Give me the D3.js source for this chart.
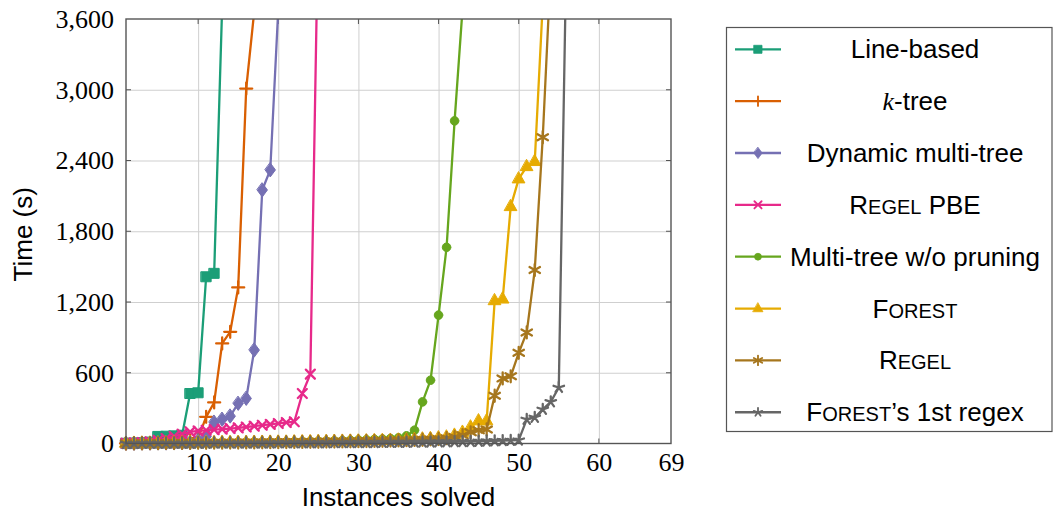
<!DOCTYPE html>
<html>
<head>
<meta charset="utf-8">
<script src="https://cdn.jsdelivr.net/npm/d3@7"></script>
<style>
  body { margin: 0; background: #fff; }
  svg { display: block; }
  .tick text { font-family: "Liberation Serif", "DejaVu Serif", serif; font-size: 26px; fill: #000; }
  .axis-label, .legend-text { font-family: "Liberation Sans", Arial, sans-serif; font-size: 26px; fill: #000; }
</style>
</head>
<body>
<div id="chart"></div>
<script>
// time (s) for the n-th solved instance, n = 1, 2, 3, ...
const lineBased = [2, 4, 7, 12, 60, 62, 65, 70, 424, 430, 1414, 1443, 3713];
const kTree = [1, 2, 3, 4, 5, 6, 8, 12, 22, 45, 226, 348, 849, 947, 1324, 3010, 3665];
const dynamicMultiTree = [1, 1, 2, 2, 3, 3, 4, 5, 7, 25, 60, 180, 205, 232, 340, 382, 792, 2150, 2320, 3682];
const regelPbe = [3, 5, 8, 15, 28, 42, 60, 79, 99, 107, 112, 118, 122, 127, 133, 140, 147, 155, 162, 170,
  178, 184, 424, 588, 4500];
const multiTreeNoPruning = [1, 1, 2, 2, 3, 3, 4, 4, 5, 5, 6, 6, 7, 7, 8, 8, 9, 10, 11, 12,
  13, 14, 16, 17, 19, 20, 22, 25, 28, 30, 32, 35, 38, 42, 48, 65, 113, 353, 537, 1089,
  1664, 2736, 3696];
const forest = [2, 2, 3, 3, 4, 4, 5, 5, 6, 6, 7, 7, 8, 8, 9, 9, 10, 10, 11, 12,
  12, 13, 14, 15, 16, 17, 18, 19, 20, 21, 22, 24, 25, 27, 29, 31, 34, 38, 42, 48,
  55, 70, 95, 140, 192, 192, 1211, 1225, 2009, 2244, 2348, 2391, 3734];
const regel = [1, 2, 2, 3, 3, 4, 4, 5, 5, 6, 6, 7, 7, 8, 8, 9, 9, 10, 11, 11,
  12, 13, 13, 14, 15, 16, 17, 18, 19, 20, 21, 22, 23, 25, 26, 28, 30, 32, 35, 38,
  45, 55, 70, 95, 113, 119, 405, 552, 570, 769, 942, 1471, 2597, 4030];
const forestFirst = [0, 0, 1, 1, 1, 1, 2, 2, 2, 2, 2, 3, 3, 3, 3, 4, 4, 4, 4, 5,
  5, 5, 5, 6, 6, 6, 7, 7, 7, 8, 8, 8, 9, 9, 10, 10, 11, 11, 12, 13,
  14, 15, 16, 17, 19, 21, 23, 25, 26, 28, 204, 221, 289, 353, 475, 4380];

const xTicks = [10, 20, 30, 40, 50, 60, 69];
const yTicks = [0, 600, 1200, 1800, 2400, 3000, 3600];

const series = [
  { values: lineBased, color: '#1b9e77', marker: 'square', label: [['Line-based']] },
  { values: kTree, color: '#d95f02', marker: 'plus', label: [['k', 'math'], ['-tree']] },
  { values: dynamicMultiTree, color: '#7570b3', marker: 'diamond', label: [['Dynamic multi-tree']] },
  { values: regelPbe, color: '#e7298a', marker: 'cross', label: [['R'], ['EGEL', 'sc'], [' PBE']] },
  { values: multiTreeNoPruning, color: '#66a61e', marker: 'circle', label: [['Multi-tree w/o pruning']] },
  { values: forest, color: '#e6ab02', marker: 'triangle', label: [['F'], ['OREST', 'sc']] },
  { values: regel, color: '#a6761d', marker: 'asterisk', label: [['R'], ['EGEL', 'sc']] },
  { values: forestFirst, color: '#666666', marker: 'star', label: [['F'], ['OREST', 'sc'], ['\u2019s 1st regex']] }
];

const W = 1053, H = 515;
const plot = { left: 126, right: 671, top: 19, bottom: 443.5 };

const svg = d3.select('#chart').append('svg').attr('width', W).attr('height', H);
svg.append('rect').attr('width', W).attr('height', H).attr('fill', '#fff');

const x = d3.scaleLinear().domain([1, 69]).range([plot.left, plot.right]);
const y = d3.scaleLinear().domain([0, 3600]).range([plot.bottom, plot.top]);

function spokes(r, n, start) {
  let d = '';
  for (let i = 0; i < n; i++) {
    const a = (start + i * 360 / n) * Math.PI / 180;
    d += `M0,0L${(r * Math.cos(a)).toFixed(2)},${(-r * Math.sin(a)).toFixed(2)}`;
  }
  return d;
}

function markerShape(type) {
  switch (type) {
    case 'square': return { d: 'M-5,-5H5V5H-5Z', fill: true };
    case 'plus': return { d: 'M-6,0H6M0,-6V6', fill: false };
    case 'diamond': return { d: 'M0,-7L5.2,0L0,7L-5.2,0Z', fill: true };
    case 'cross': return { d: 'M-4.5,-4.5L4.5,4.5M-4.5,4.5L4.5,-4.5', fill: false };
    case 'circle': return { d: d3.symbol(d3.symbolCircle, 58)(), fill: true };
    case 'triangle': return { d: 'M0,-7L6.2,4L-6.2,4Z', fill: true };
    case 'asterisk': return { d: spokes(6, 6, 90), fill: false };
    case 'star': return { d: spokes(5.5, 5, 90), fill: false };
  }
}

function drawMarker(sel, s) {
  const m = markerShape(s.marker);
  sel.attr('d', m.d)
    .attr('fill', m.fill ? s.color : 'none')
    .attr('stroke', s.color)
    .attr('stroke-width', m.fill ? 1 : 2.3)
    .attr('stroke-linecap', 'round');
}

// grid
svg.append('g')
  .attr('transform', `translate(0,${plot.bottom})`)
  .call(d3.axisBottom(x).tickValues(xTicks.slice(0, -1)).tickSize(-(plot.bottom - plot.top)).tickFormat(''))
  .call(g => g.select('.domain').remove())
  .selectAll('line').attr('stroke', '#cfcfcf').attr('stroke-width', 1);
svg.append('g')
  .attr('transform', `translate(${plot.left},0)`)
  .call(d3.axisLeft(y).tickValues(yTicks.slice(1, -1)).tickSize(-(plot.right - plot.left)).tickFormat(''))
  .call(g => g.select('.domain').remove())
  .selectAll('line').attr('stroke', '#cfcfcf').attr('stroke-width', 1);

// tick labels
svg.append('g')
  .attr('transform', `translate(0,${plot.bottom})`)
  .call(d3.axisBottom(x).tickValues(xTicks).tickSize(0).tickPadding(9).tickFormat(d3.format('d')))
  .call(g => g.select('.domain').remove());
svg.append('g')
  .attr('transform', `translate(${plot.left},0)`)
  .call(d3.axisLeft(y).tickValues(yTicks).tickSize(0).tickPadding(12).tickFormat(d3.format(',')))
  .call(g => g.select('.domain').remove());

// small inner ticks
const tickG = svg.append('g').attr('stroke', '#555').attr('stroke-width', 1);
xTicks.slice(0, -1).forEach(t => {
  tickG.append('line').attr('x1', x(t)).attr('x2', x(t)).attr('y1', plot.bottom).attr('y2', plot.bottom - 5);
  tickG.append('line').attr('x1', x(t)).attr('x2', x(t)).attr('y1', plot.top).attr('y2', plot.top + 5);
});
yTicks.slice(1, -1).forEach(t => {
  tickG.append('line').attr('x1', plot.left).attr('x2', plot.left + 5).attr('y1', y(t)).attr('y2', y(t));
  tickG.append('line').attr('x1', plot.right).attr('x2', plot.right - 5).attr('y1', y(t)).attr('y2', y(t));
});

svg.append('defs').append('clipPath').attr('id', 'plot-clip')
  .append('rect')
  .attr('x', plot.left).attr('y', plot.top)
  .attr('width', plot.right - plot.left).attr('height', plot.bottom - plot.top);

const line = d3.line().x(d => x(d.n)).y(d => y(d.t));

series.forEach(s => {
  const pts = s.values.map((t, i) => ({ n: i + 1, t: t }));
  svg.append('path')
    .datum(pts)
    .attr('clip-path', 'url(#plot-clip)')
    .attr('d', line)
    .attr('fill', 'none')
    .attr('stroke', s.color)
    .attr('stroke-width', 2.3)
    .attr('stroke-linejoin', 'round');
  svg.append('g').selectAll('path')
    .data(pts.filter(d => d.t <= 3600))
    .join('path')
    .attr('transform', d => `translate(${x(d.n)},${y(d.t)})`)
    .call(sel => drawMarker(sel, s));
});

// frame
svg.append('rect')
  .attr('x', plot.left).attr('y', plot.top)
  .attr('width', plot.right - plot.left).attr('height', plot.bottom - plot.top)
  .attr('fill', 'none').attr('stroke', '#555').attr('stroke-width', 1.4);

// axis titles
svg.append('text')
  .attr('class', 'axis-label')
  .attr('x', (plot.left + plot.right) / 2)
  .attr('y', 506)
  .attr('text-anchor', 'middle')
  .text('Instances solved');
svg.append('text')
  .attr('class', 'axis-label')
  .attr('transform', `translate(32,${(plot.top + plot.bottom) / 2 + 3}) rotate(-90)`)
  .attr('text-anchor', 'middle')
  .text('Time (s)');

// legend
const legend = svg.append('g');
legend.append('rect')
  .attr('x', 726.5).attr('y', 27.5).attr('width', 325.5).attr('height', 404)
  .attr('fill', '#fff').attr('stroke', '#555').attr('stroke-width', 1.2);

series.forEach((s, i) => {
  const cy = 49.3 + i * 51.85;
  const row = legend.append('g');
  row.append('line')
    .attr('x1', 735).attr('x2', 781).attr('y1', cy).attr('y2', cy)
    .attr('stroke', s.color).attr('stroke-width', 2.3);
  row.append('path')
    .attr('transform', `translate(758,${cy}) scale(0.8)`)
    .call(sel => drawMarker(sel, s));
  const txt = row.append('text')
    .attr('class', 'legend-text')
    .attr('x', 915).attr('y', cy + 9)
    .attr('text-anchor', 'middle');
  s.label.forEach(([str, kind]) => {
    const ts = txt.append('tspan').text(str);
    if (kind === 'sc') ts.style('font-size', '20px');
    if (kind === 'math') ts.style('font-family', '"Liberation Serif", serif').style('font-style', 'italic');
  });
});
</script>
</body>
</html>
